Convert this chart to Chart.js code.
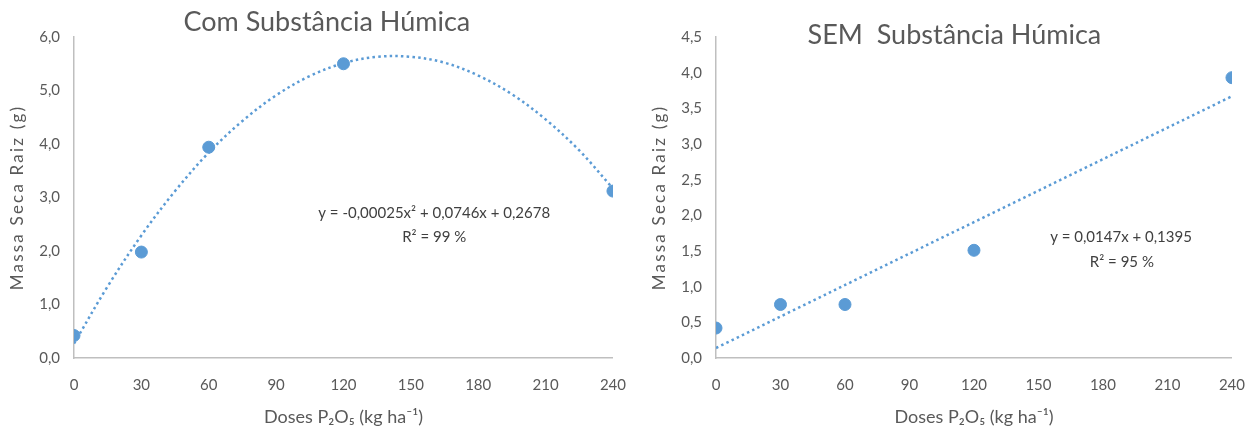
<!DOCTYPE html>
<html>
<head>
<meta charset="utf-8">
<script src="https://cdn.jsdelivr.net/npm/chart.js@4"></script>
<style>
  html, body { margin: 0; padding: 0; background: #fff; }
  body { width: 1248px; height: 428px; position: relative; overflow: hidden; }
  canvas { position: absolute; top: 0; }
  #left  { left: 0; }
  #right { left: 642px; }
</style>
</head>
<body>
<canvas id="left" width="644" height="428"></canvas>
<canvas id="right" width="621" height="428"></canvas>
<script>
/* ---------- data ---------- */
const doses      = [0, 30, 60, 120, 240];
const comHumica  = [0.42, 1.98, 3.94, 5.50, 3.12];
const semHumica  = [0.42, 0.75, 0.75, 1.51, 3.93];

// trendlines
const comTrendX  = [0, 15, 30, 45, 60, 75, 90, 105, 120, 135, 150, 165, 180, 195, 210, 225, 240];
const comTrendY  = [0.27, 1.34, 2.29, 3.12, 3.84, 4.43, 4.91, 5.27, 5.51, 5.63, 5.63, 5.52, 5.28, 4.93, 4.46, 3.88, 3.17];
const semTrendX  = [0, 240];
const semTrendY  = [0.14, 3.67];

const xTicks     = [0, 30, 60, 90, 120, 150, 180, 210, 240];
const comYTicks  = [0, 1, 2, 3, 4, 5, 6];
const semYTicks  = [0, 0.5, 1, 1.5, 2, 2.5, 3, 3.5, 4, 4.5];

/* ---------- helpers ---------- */
const FONT  = 'Lato, "Open Sans", sans-serif';
const BLUE  = '#5b9bd5';
const GREY  = '#595959';
const zip   = (xs, ys) => xs.map((x, i) => ({ x, y: ys[i] }));
const comma = v => v.toFixed(1).replace('.', ',');

// free text placed in data coordinates, plus the spaced-out y title
const notes = items => ({
  id: 'notes',
  afterDraw(chart) {
    const { ctx, chartArea, scales: { x, y } } = chart;
    items.forEach(it => {
      ctx.save();
      ctx.font = `${it.size}px ${FONT}`;
      ctx.fillStyle = it.color;
      ctx.textAlign = 'center';
      ctx.textBaseline = 'middle';
      ctx.fillText(it.text, x.getPixelForValue(it.x), y.getPixelForValue(it.y));
      ctx.restore();
    });
    ctx.save();
    ctx.translate(18, (chartArea.top + chartArea.bottom) / 2);
    ctx.rotate(-Math.PI / 2);
    ctx.font = `17px ${FONT}`;
    ctx.letterSpacing = '2.2px';
    ctx.fillStyle = GREY;
    ctx.textAlign = 'center';
    ctx.textBaseline = 'middle';
    ctx.fillText('Massa Seca Raiz (g)', 0, 0);
    ctx.restore();
  }
});

function makeChart(el, pts, trend, yTicks, yMax, texts) {
  return new Chart(el, {
    type: 'scatter',
    data: {
      datasets: [
        {
          data: pts,
          backgroundColor: BLUE,
          borderColor: BLUE,
          pointRadius: 6,
          pointHoverRadius: 6,
          order: 1
        },
        {
          data: trend,
          showLine: true,
          pointRadius: 0,
          borderColor: BLUE,
          borderWidth: 2.5,
          borderDash: [2.5, 3.2],
          tension: 0.35,
          order: 2
        }
      ]
    },
    options: {
      responsive: false,
      animation: false,
      layout: { padding: { top: 37, right: 0, left: 0, bottom: 0 } },
      plugins: { legend: { display: false }, tooltip: { enabled: false } },
      scales: {
        x: {
          type: 'linear', min: 0, max: 240,
          afterBuildTicks: s => { s.ticks = xTicks.map(v => ({ value: v })); },
          afterFit: s => { s.height = 70; },
          grid: { drawOnChartArea: false, drawTicks: false },
          border: { color: '#bfbfbf', width: 1.5 },
          ticks: { color: GREY, padding: 18, font: { family: FONT, size: 15 }, maxRotation: 0 },
          title: {
            display: true, text: 'Doses P\u2082O\u2085 (kg ha\u207B\u00B9)',
            color: GREY, font: { family: FONT, size: 18 }, padding: { top: 0, bottom: 0 }
          }
        },
        y: {
          min: 0, max: yMax,
          afterBuildTicks: s => { s.ticks = yTicks.map(v => ({ value: v })); },
          afterFit: s => { s.width = 74; },
          grid: { drawOnChartArea: false, drawTicks: false },
          border: { color: '#bfbfbf', width: 1.5 },
          ticks: { color: GREY, padding: 14, font: { family: FONT, size: 15 }, callback: comma },
          title: { display: false }
        }
      }
    },
    plugins: [notes(texts)]
  });
}

/* ---------- charts ---------- */
makeChart(document.getElementById('left'),
  zip(doses, comHumica), zip(comTrendX, comTrendY), comYTicks, 6, [
    { text: 'Com Substância Húmica', x: 112.6, y: 6.28, size: 27, color: GREY },
    { text: 'y = -0,00025x\u00B2 + 0,0746x + 0,2678', x: 160.4, y: 2.71, size: 15, color: '#404040' },
    { text: 'R\u00B2 = 99 %', x: 160.4, y: 2.26, size: 15, color: '#404040' }
  ]);

makeChart(document.getElementById('right'),
  zip(doses, semHumica), zip(semTrendX, semTrendY), semYTicks, 4.5, [
    { text: 'SEM  Substância Húmica', x: 110.9, y: 4.53, size: 27, color: GREY },
    { text: 'y = 0,0147x + 0,1395', x: 188.4, y: 1.70, size: 15, color: '#404040' },
    { text: 'R\u00B2 = 95 %', x: 188.8, y: 1.34, size: 15, color: '#404040' }
  ]);
</script>
</body>
</html>
